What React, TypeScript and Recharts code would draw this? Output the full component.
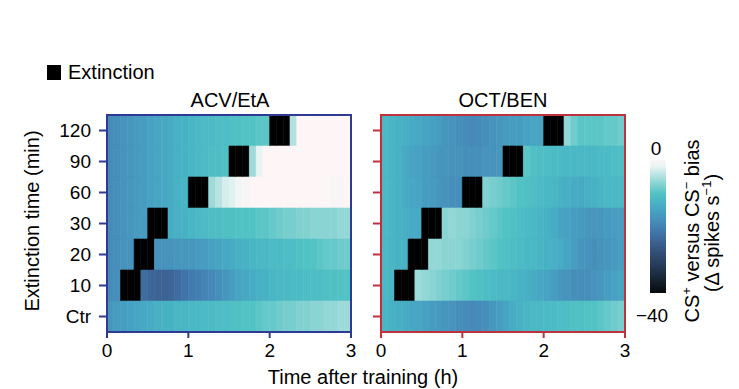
import React from "react";
import { BarChart, Bar, Cell, XAxis, YAxis, ReferenceArea } from "recharts";

const rowLabels = ["120", "90", "60", "30", "20", "10", "Ctr"];
const binMinutes = 5; // 36 bins of 5 min over 3 h
const hourTicks = [0, 60, 120, 180];

// ACV/EtA: CS+ vs CS- bias per 5-min bin, null = extinction
const acv120 = [-18.5, -18, -17.5, -17, -16.5, -16, -15.5, -15, -14.5, -14, -13.5, -13, -12.5, -12, -11.5, -11.5, -11, -11, -10.5, -10.5, -10, -10, -9.5, -9.5, null, null, null, -5, 0, 0, 0, 0, 0, 0, 0, 0];
const acv90 = [-18.5, -18, -17.5, -17, -16.5, -16, -15.5, -15, -14.5, -14, -13.5, -13, -12.5, -12, -11.5, -11, -11, -10.5, null, null, null, -6, -2, 0, 0, 0, 0, 0, 0, 0, 0, 0, 0, 0, 0, 0];
const acv60 = [-18.5, -18, -17.5, -17, -16.5, -16, -15.5, -15, -14.5, -14, -13, -12.5, null, null, null, -6, -4.5, -3, -2.5, -1, -0.5, 0, 0, 0, 0, 0, 0, 0, 0, 0, 0, 0, 0, -0.5, -0.5, 0];
const acv30 = [-18.5, -18, -17.5, -17, -16.5, -16, null, null, null, -14, -13.5, -13, -12.5, -12, -11.5, -11, -11, -10.5, -10.5, -10, -10, -10, -9.5, -9.5, -9, -8.5, -8, -8, -7.5, -7.5, -7, -7, -7, -7, -6.5, -6.5];
const acv20 = [-18.5, -18, -17.5, -17.5, null, null, null, -17.5, -17.5, -17.5, -17, -17, -17, -16.5, -16, -15.5, -15, -14.5, -14, -13.5, -13, -12.5, -12, -12, -11.5, -11.5, -11, -11, -10.5, -10, -10, -9.5, -9, -9, -8.5, -8.5];
const acv10 = [-18.5, -18, null, null, null, -23, -24, -24.5, -24.5, -24, -23, -22, -21, -20.5, -19.5, -19, -18, -17, -16, -15, -14.5, -14, -13.5, -13, -12.5, -12, -12, -11.5, -11.5, -11, -11, -11, -10.5, -10.5, -10, -10];
const acvCtr = [-17, -16.5, -16, -15.5, -15, -14.5, -14, -13.5, -13, -13, -12.5, -12.5, -12, -12, -11.5, -11.5, -11, -11, -10.5, -10.5, -10, -10, -9.5, -9, -9, -8.5, -8, -8, -7.5, -7.5, -7, -7, -6.5, -6.5, -6, -6];

// OCT/BEN
const oct120 = [-12, -12.5, -13, -13.5, -14, -14.5, -15, -15.5, -16, -17, -17.5, -18, -18.5, -19, -18.5, -18, -17.5, -17, -16.5, -16, -16, -15.5, -15, -15, null, null, null, -6.5, -8.5, -9.5, -9.5, -9.5, -9.5, -9, -9, -8.5];
const oct90 = [-12, -12.5, -13, -14, -15, -15.5, -16, -16.5, -17, -17, -17.5, -17.5, -18, -18, -18, -17.5, -17.5, -17, null, null, null, -9.5, -10.5, -11, -11, -11.5, -11.5, -12, -12, -12, -12, -12, -11.5, -11.5, -11, -11];
const oct60 = [-12, -12.5, -13, -14, -14.5, -15, -16, -16.5, -17, -17.5, -18, -18, null, null, null, -7.5, -8, -8.5, -9, -9.5, -10, -10.5, -11, -11.5, -12, -12.5, -13, -13.5, -14, -14, -13.5, -13, -12.5, -12, -12, -12];
const oct30 = [-12, -12.5, -13, -13.5, -14, -14, null, null, null, -7, -6.5, -7, -7, -7.5, -8, -8.5, -9, -9.5, -10, -10.5, -11, -11.5, -12, -12.5, -13, -14, -15, -15.5, -16, -16.5, -17, -17, -17, -16.5, -16, -16];
const oct20 = [-12, -12.5, -13, -13, null, null, null, -6.5, -6.5, -7, -7, -7, -7.5, -8, -8.5, -9, -9.5, -10, -10.5, -11, -11.5, -12, -12, -12.5, -13, -13.5, -14, -15, -16, -17, -17.5, -18, -17.5, -17, -16.5, -16];
const oct10 = [-12, -12.5, null, null, null, -6, -6.5, -7, -7.5, -8, -8.5, -9, -9.5, -10, -10.5, -11, -11.5, -12, -12, -12.5, -13, -13.5, -14, -14.5, -15, -16, -17, -17.5, -18, -18, -18, -17.5, -17, -16, -15.5, -15];
const octCtr = [-12.5, -13, -13.5, -14, -14.5, -15, -15.5, -16, -16.5, -17, -17.5, -18, -18.5, -19, -18.5, -18, -17, -16, -15, -14, -13, -12.5, -12, -12, -11.5, -11.5, -11, -11, -10.5, -10.5, -10, -10, -9.5, -9, -8.5, -8];

const acvRows = [acv120, acv90, acv60, acv30, acv20, acv10, acvCtr];
const octRows = [oct120, oct90, oct60, oct30, oct20, oct10, octCtr];

// colour scale, 0 at top to -40 at bottom
const colorStops: [number, string][] = [
  [0, "#fdf5f6"],
  [-2, "#e8f4f4"],
  [-5, "#b0e0e0"],
  [-8, "#78cece"],
  [-10, "#52c3c5"],
  [-13, "#48b2c5"],
  [-16, "#479dc1"],
  [-19, "#4688b8"],
  [-22, "#4074aa"],
  [-25, "#3b6090"],
  [-28, "#324e75"],
  [-32, "#243a58"],
  [-36, "#16232f"],
  [-40, "#080b0e"],
];

const hex = (c: string) => [1, 3, 5].map((i) => parseInt(c.slice(i, i + 2), 16));

const colorFor = (v: number | null) => {
  if (v === null) return "#000000";
  for (let i = 0; i < colorStops.length - 1; i++) {
    const [v0, c0] = colorStops[i];
    const [v1, c1] = colorStops[i + 1];
    if (v <= v0 && v >= v1) {
      const t = (v0 - v) / (v0 - v1);
      const a = hex(c0);
      const b = hex(c1);
      return `rgb(${a.map((x, k) => Math.round(x + (b[k] - x) * t)).join(",")})`;
    }
  }
  return v > 0 ? colorStops[0][1] : colorStops[colorStops.length - 1][1];
};

const bins = acv120.map((_, i) => i);
const chartData = rowLabels.map((label) => {
  const row: Record<string, string | number> = { label };
  bins.forEach((i) => (row[`b${i}`] = binMinutes));
  return row;
});

const font = '"Liberation Sans", Arial, sans-serif';

// y tick: outward tick mark plus optional label
const RowTick = ({ x, y, payload, color, labels }: any) => (
  <g>
    <line x1={x + 6} x2={x + 14} y1={y} y2={y} stroke={color} strokeWidth={2} />
    {labels ? (
      <text x={x - 2} y={y} dy="0.355em" textAnchor="end" fill="#000" fontSize={19}>
        {payload.value}
      </text>
    ) : null}
  </g>
);

const HeatPanel = ({ values, color, left, width, yWidth, labels }: any) => (
  <div style={{ position: "absolute", left, top: 0 }}>
    <BarChart
      width={width}
      height={389}
      data={chartData}
      layout="vertical"
      margin={{ top: 115, right: 9, bottom: 27, left: 0 }}
      barCategoryGap={0}
      barGap={0}
    >
      <XAxis
        type="number"
        domain={[0, 180]}
        ticks={hourTicks}
        tickFormatter={(v) => `${v / 60}`}
        stroke={color}
        axisLine={false}
        tickLine={{ stroke: color, strokeWidth: 2 }}
        tickSize={6}
        tickMargin={6}
        tick={{ fill: "#000", fontSize: 19 }}
        height={30}
        allowDataOverflow
      />
      <YAxis
        type="category"
        dataKey="label"
        width={yWidth}
        axisLine={false}
        tickLine={false}
        tickSize={8}
        tickMargin={6}
        tick={<RowTick color={color} labels={labels} />}
      />
      {bins.map((i) => (
        <Bar key={i} dataKey={`b${i}`} stackId="t" isAnimationActive={false}>
          {values.map((row: (number | null)[], j: number) => {
            const c = colorFor(row[i]);
            return <Cell key={j} fill={c} stroke={c} strokeWidth={0.6} />;
          })}
        </Bar>
      ))}
      <ReferenceArea
        x1={0}
        x2={180}
        fill="none"
        fillOpacity={0}
        stroke={color}
        strokeWidth={2}
        ifOverflow="visible"
        zIndex={1000}
      />
    </BarChart>
  </div>
);

const gradient = `linear-gradient(to bottom, ${colorStops
  .map(([v, c]) => `${c} ${(-v / 40) * 100}%`)
  .join(", ")})`;

const sup = { fontSize: 13, position: "relative" as const, top: -8 };

export default function App() {
  return (
    <div
      style={{
        position: "absolute",
        left: 0,
        top: 0,
        width: 739,
        height: 389,
        background: "#fff",
        fontFamily: font,
        color: "#000",
        overflow: "hidden",
      }}
    >
      <HeatPanel values={acvRows} color="#2f3a94" left={0} width={360} yWidth={107} labels />
      <HeatPanel values={octRows} color="#c0313e" left={370} width={264} yWidth={11} labels={false} />

      {/* legend */}
      <div style={{ position: "absolute", left: 47, top: 65, width: 14, height: 15, background: "#000" }} />
      <div style={{ position: "absolute", left: 68, top: 60, fontSize: 20, lineHeight: "24px" }}>Extinction</div>

      {/* titles */}
      <div style={{ position: "absolute", left: 230, top: 100, transform: "translate(-50%,-50%)", fontSize: 20, whiteSpace: "nowrap" }}>
        ACV/EtA
      </div>
      <div style={{ position: "absolute", left: 503, top: 100, transform: "translate(-50%,-50%)", fontSize: 20, whiteSpace: "nowrap" }}>
        OCT/BEN
      </div>

      {/* axis titles */}
      <div style={{ position: "absolute", left: 363, top: 377, transform: "translate(-50%,-50%)", fontSize: 20, whiteSpace: "nowrap" }}>
        Time after training (h)
      </div>
      <div
        style={{
          position: "absolute",
          left: 32,
          top: 221,
          transform: "translate(-50%,-50%) rotate(-90deg)",
          fontSize: 20,
          whiteSpace: "nowrap",
        }}
      >
        Extinction time (min)
      </div>

      {/* colour bar */}
      <div style={{ position: "absolute", left: 650, top: 160, width: 16, height: 133, background: gradient }} />
      <div style={{ position: "absolute", left: 656, top: 149, transform: "translate(-50%,-50%)", fontSize: 19 }}>0</div>
      <div style={{ position: "absolute", left: 652, top: 316, transform: "translate(-50%,-50%)", fontSize: 19 }}>−40</div>
      <div
        style={{
          position: "absolute",
          left: 692,
          top: 231,
          transform: "translate(-50%,-50%) rotate(-90deg)",
          fontSize: 20,
          whiteSpace: "nowrap",
          lineHeight: 1,
        }}
      >
        CS<span style={sup}>+</span> versus CS<span style={sup}>−</span> bias
      </div>
      <div
        style={{
          position: "absolute",
          left: 712,
          top: 233,
          transform: "translate(-50%,-50%) rotate(-90deg)",
          fontSize: 20,
          whiteSpace: "nowrap",
          lineHeight: 1,
        }}
      >
        (Δ spikes s<span style={sup}>−1</span>)
      </div>
    </div>
  );
}
